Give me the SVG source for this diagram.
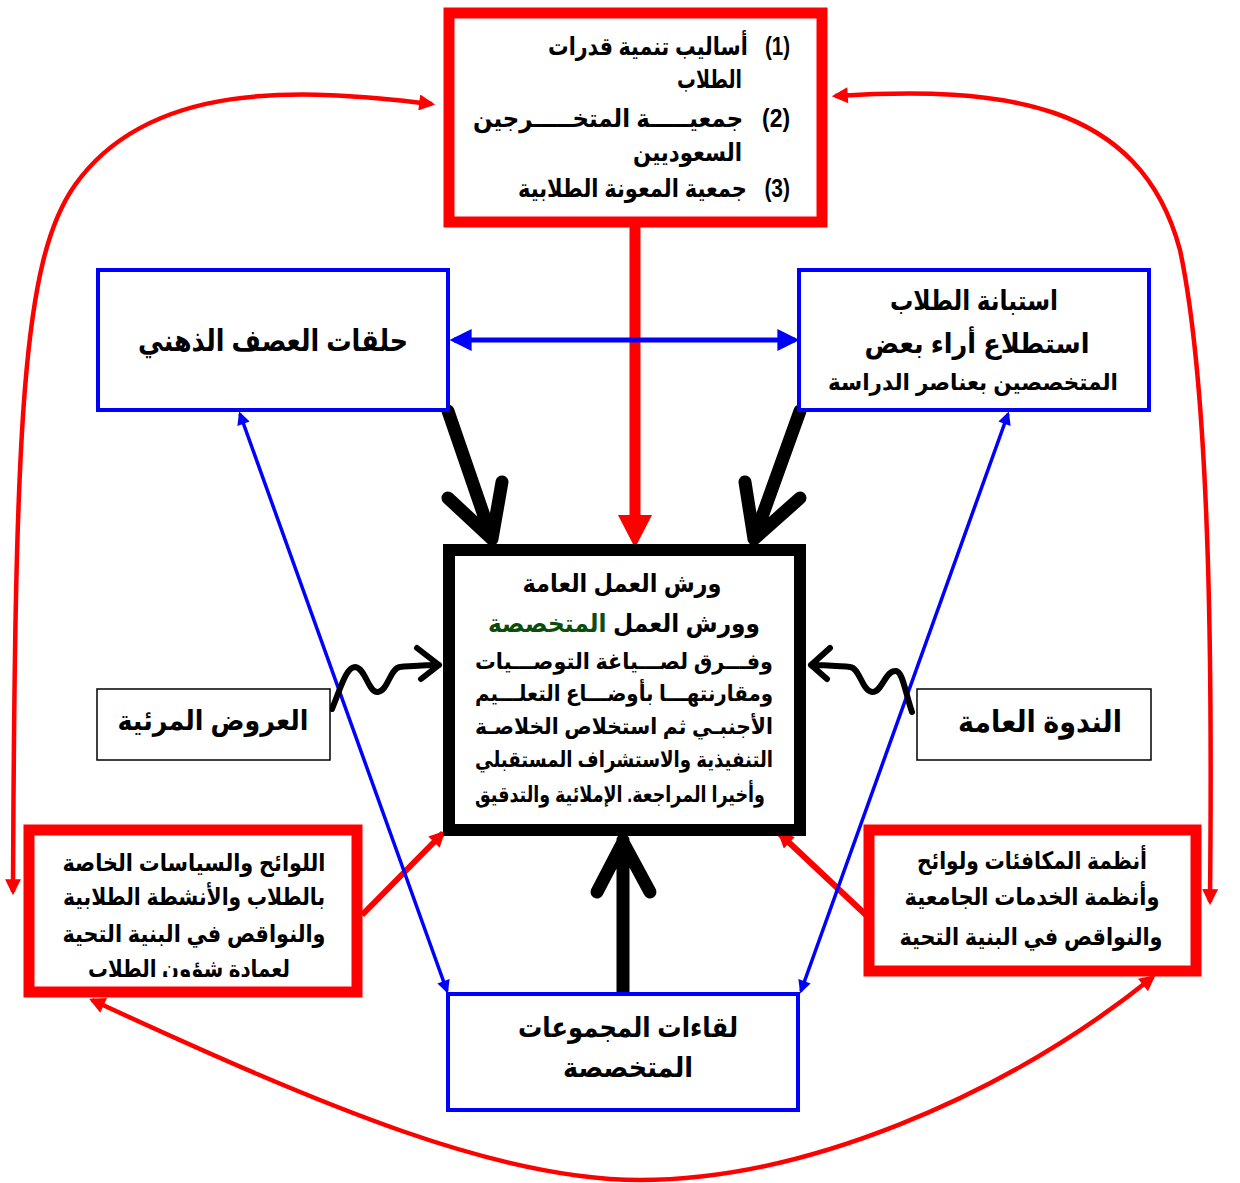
<svg xmlns="http://www.w3.org/2000/svg" width="1240" height="1183" viewBox="0 0 1240 1183">
<style>
.t{font-family:"Liberation Sans","DejaVu Sans","Noto Sans",sans-serif;font-weight:bold;fill:#000}
.redbox{fill:#fff;stroke:#ff0000;stroke-width:11}
.bluebox{fill:#fff;stroke:#0000ff;stroke-width:4}
.thinbox{fill:#fff;stroke:#000;stroke-width:1.5}
.blk{fill:none;stroke:#000;stroke-linecap:round;stroke-linejoin:round}
</style>
<defs>
<marker id="ar" viewBox="0 0 10 10" refX="8" refY="5" markerWidth="20" markerHeight="16" markerUnits="userSpaceOnUse" orient="auto-start-reverse"><path d="M0,0 L10,5 L0,10 z" fill="#ff0000"/></marker>
<marker id="ab" viewBox="0 0 10 10" refX="8" refY="5" markerWidth="16" markerHeight="13" markerUnits="userSpaceOnUse" orient="auto-start-reverse"><path d="M0,0 L10,5 L0,10 z" fill="#0000ff"/></marker>
<marker id="abL" viewBox="0 0 10 10" refX="8" refY="5" markerWidth="22" markerHeight="22" markerUnits="userSpaceOnUse" orient="auto-start-reverse"><path d="M0,0 L10,5 L0,10 z" fill="#0000ff"/></marker>
<clipPath id="clipL"><rect x="30" y="830" width="330" height="147"/></clipPath>
</defs>
<rect width="1240" height="1183" fill="#fff"/>

<g id="connectors">
  <path d="M432,104 C300,88 150,80 75,185 C22,260 15,420 13,892" fill="none" stroke="#ff0000" stroke-width="4.5" marker-start="url(#ar)" marker-end="url(#ar)"/>
  <path d="M835,96 C1000,86 1140,100 1180,250 C1212,400 1212,700 1210,902" fill="none" stroke="#ff0000" stroke-width="4.5" marker-start="url(#ar)" marker-end="url(#ar)"/>
  <path d="M92,1000 C330,1110 500,1180 640,1180 C800,1180 1000,1100 1153,977" fill="none" stroke="#ff0000" stroke-width="4.5" marker-start="url(#ar)" marker-end="url(#ar)"/>
  <path d="M362,915 L443,833" fill="none" stroke="#ff0000" stroke-width="6" marker-end="url(#ar)"/>
  <path d="M866,915 L780,834" fill="none" stroke="#ff0000" stroke-width="6" marker-end="url(#ar)"/>
  <line x1="635" y1="226" x2="635" y2="518" stroke="#ff0000" stroke-width="11"/>
  <polygon points="618,515 652,515 635,548" fill="#ff0000"/>
  <line x1="454" y1="340" x2="795" y2="340" stroke="#0000ff" stroke-width="5" marker-start="url(#abL)" marker-end="url(#abL)"/>
  <line x1="240" y1="414" x2="447" y2="991" stroke="#0000ff" stroke-width="3.5" marker-start="url(#ab)" marker-end="url(#ab)"/>
  <line x1="1008" y1="414" x2="801" y2="991" stroke="#0000ff" stroke-width="3.5" marker-start="url(#ab)" marker-end="url(#ab)"/>
  <path class="blk" stroke-width="13" d="M448,411 L492,539 M448,498 L492,539 L502,482"/>
  <path class="blk" stroke-width="13" d="M800,411 L754,539 M745,482 L754,539 L800,498"/>
  <path class="blk" stroke-width="13" d="M623,993 L623,840 M597,892 L623,842 L650,892"/>
  <path class="blk" stroke-width="6" d="M332,709 C340,690 346,667 355,667 C366,668 368,693 378,692 C388,691 390,668 400,667 C415,666 425,665 439,665 M417,648 L439,665 L421,679"/>
  <path class="blk" stroke-width="6" d="M912,712 C905,692 903,672 896,671 C885,670 882,693 872,692 C862,691 860,668 850,667 C835,666 825,665 811,665 M830,648 L811,665 L827,679"/>
</g>

<g id="node-top">
  <rect class="redbox" x="449" y="13" width="373" height="209"/>
  <text class="t" x="790" y="55" font-size="25" direction="rtl" text-anchor="start" textLength="242" lengthAdjust="spacingAndGlyphs">(1)&#160;&#160;&#160;أساليب تنمية قدرات</text>
  <text class="t" x="742" y="88" font-size="25" text-anchor="end" textLength="65" lengthAdjust="spacingAndGlyphs">الطلاب</text>
  <text class="t" x="790" y="127" font-size="25" direction="rtl" text-anchor="start" textLength="317" lengthAdjust="spacingAndGlyphs">(2)&#160;&#160;&#160;جمعيـــــة المتخـــــرجين</text>
  <text class="t" x="742" y="161" font-size="25" text-anchor="end" textLength="109" lengthAdjust="spacingAndGlyphs">السعوديين</text>
  <text class="t" x="790" y="197" font-size="25" direction="rtl" text-anchor="start" textLength="272" lengthAdjust="spacingAndGlyphs">(3)&#160;&#160;&#160;جمعية المعونة الطلابية</text>
</g>

<g id="node-brainstorm">
  <rect class="bluebox" x="98" y="270" width="350" height="140"/>
  <text class="t" x="273" y="351" font-size="30" text-anchor="middle" textLength="270" lengthAdjust="spacingAndGlyphs">حلقات العصف الذهني</text>
</g>

<g id="node-survey">
  <rect class="bluebox" x="799" y="270" width="350" height="140"/>
  <text class="t" x="974" y="310" font-size="27" text-anchor="middle" textLength="168" lengthAdjust="spacingAndGlyphs">استبانة الطلاب</text>
  <text class="t" x="977" y="353" font-size="27" text-anchor="middle" textLength="225" lengthAdjust="spacingAndGlyphs">استطلاع أراء بعض</text>
  <text class="t" x="973" y="390" font-size="23" text-anchor="middle" textLength="290" lengthAdjust="spacingAndGlyphs">المتخصصين بعناصر الدراسة</text>
</g>

<g id="node-center">
  <rect x="449" y="550" width="351" height="280" fill="#fff" stroke="#000" stroke-width="12"/>
  <text class="t" x="622" y="592" font-size="25" text-anchor="middle" textLength="199" lengthAdjust="spacingAndGlyphs">ورش العمل العامة</text>
  <text class="t" x="624" y="632" font-size="25" text-anchor="middle" textLength="272" lengthAdjust="spacingAndGlyphs">وورش العمل <tspan fill="#0b4d0b">المتخصصة</tspan></text>
  <text class="t" x="624" y="669" font-size="22" text-anchor="middle" textLength="298" lengthAdjust="spacingAndGlyphs">وفـــرق لصـــياغة التوصـــيات</text>
  <text class="t" x="624" y="701" font-size="22" text-anchor="middle" textLength="298" lengthAdjust="spacingAndGlyphs">ومقارنتهـــا بأوضـــاع التعلـــيم</text>
  <text class="t" x="624" y="734" font-size="22" text-anchor="middle" textLength="298" lengthAdjust="spacingAndGlyphs">الأجنبـي ثم استخلاص الخلاصـة</text>
  <text class="t" x="624" y="767" font-size="22" text-anchor="middle" textLength="298" lengthAdjust="spacingAndGlyphs">التنفيذية والاستشراف المستقبلي</text>
  <text class="t" x="620" y="802" font-size="22" text-anchor="middle" textLength="290" lengthAdjust="spacingAndGlyphs">وأخيرا المراجعة. الإملائية والتدقيق</text>
</g>

<g id="node-visual">
  <rect class="thinbox" x="97" y="689" width="233" height="71"/>
  <text class="t" x="213" y="730" font-size="28" text-anchor="middle" textLength="191" lengthAdjust="spacingAndGlyphs">العروض المرئية</text>
</g>

<g id="node-seminar">
  <rect class="thinbox" x="917" y="689" width="234" height="71"/>
  <text class="t" x="1040" y="732" font-size="30" text-anchor="middle" textLength="164" lengthAdjust="spacingAndGlyphs">الندوة العامة</text>
</g>

<g id="node-regs-left">
  <rect class="redbox" x="29" y="830" width="328" height="162"/>
  <g clip-path="url(#clipL)">
    <text class="t" x="194" y="871" font-size="24" text-anchor="middle" textLength="263" lengthAdjust="spacingAndGlyphs">اللوائح والسياسات الخاصة</text>
    <text class="t" x="194" y="905" font-size="24" text-anchor="middle" textLength="262" lengthAdjust="spacingAndGlyphs">بالطلاب والأنشطة الطلابية</text>
    <text class="t" x="194" y="942" font-size="24" text-anchor="middle" textLength="263" lengthAdjust="spacingAndGlyphs">والنواقص في البنية التحية</text>
    <text class="t" x="189" y="977" font-size="24" text-anchor="middle" textLength="202" lengthAdjust="spacingAndGlyphs">لعمادة شؤون الطلاب</text>
  </g>
</g>

<g id="node-regs-right">
  <rect class="redbox" x="869" y="830" width="327" height="141"/>
  <text class="t" x="1032" y="869" font-size="24" text-anchor="middle" textLength="230" lengthAdjust="spacingAndGlyphs">أنظمة المكافئات ولوائح</text>
  <text class="t" x="1032" y="905" font-size="24" text-anchor="middle" textLength="255" lengthAdjust="spacingAndGlyphs">وأنظمة الخدمات الجامعية</text>
  <text class="t" x="1031" y="945" font-size="24" text-anchor="middle" textLength="263" lengthAdjust="spacingAndGlyphs">والنواقص في البنية التحية</text>
</g>

<g id="node-groups">
  <rect class="bluebox" x="448" y="994" width="350" height="116"/>
  <text class="t" x="628" y="1037" font-size="28" text-anchor="middle" textLength="220" lengthAdjust="spacingAndGlyphs">لقاءات المجموعات</text>
  <text class="t" x="628" y="1077" font-size="28" text-anchor="middle" textLength="130" lengthAdjust="spacingAndGlyphs">المتخصصة</text>
</g>
</svg>
